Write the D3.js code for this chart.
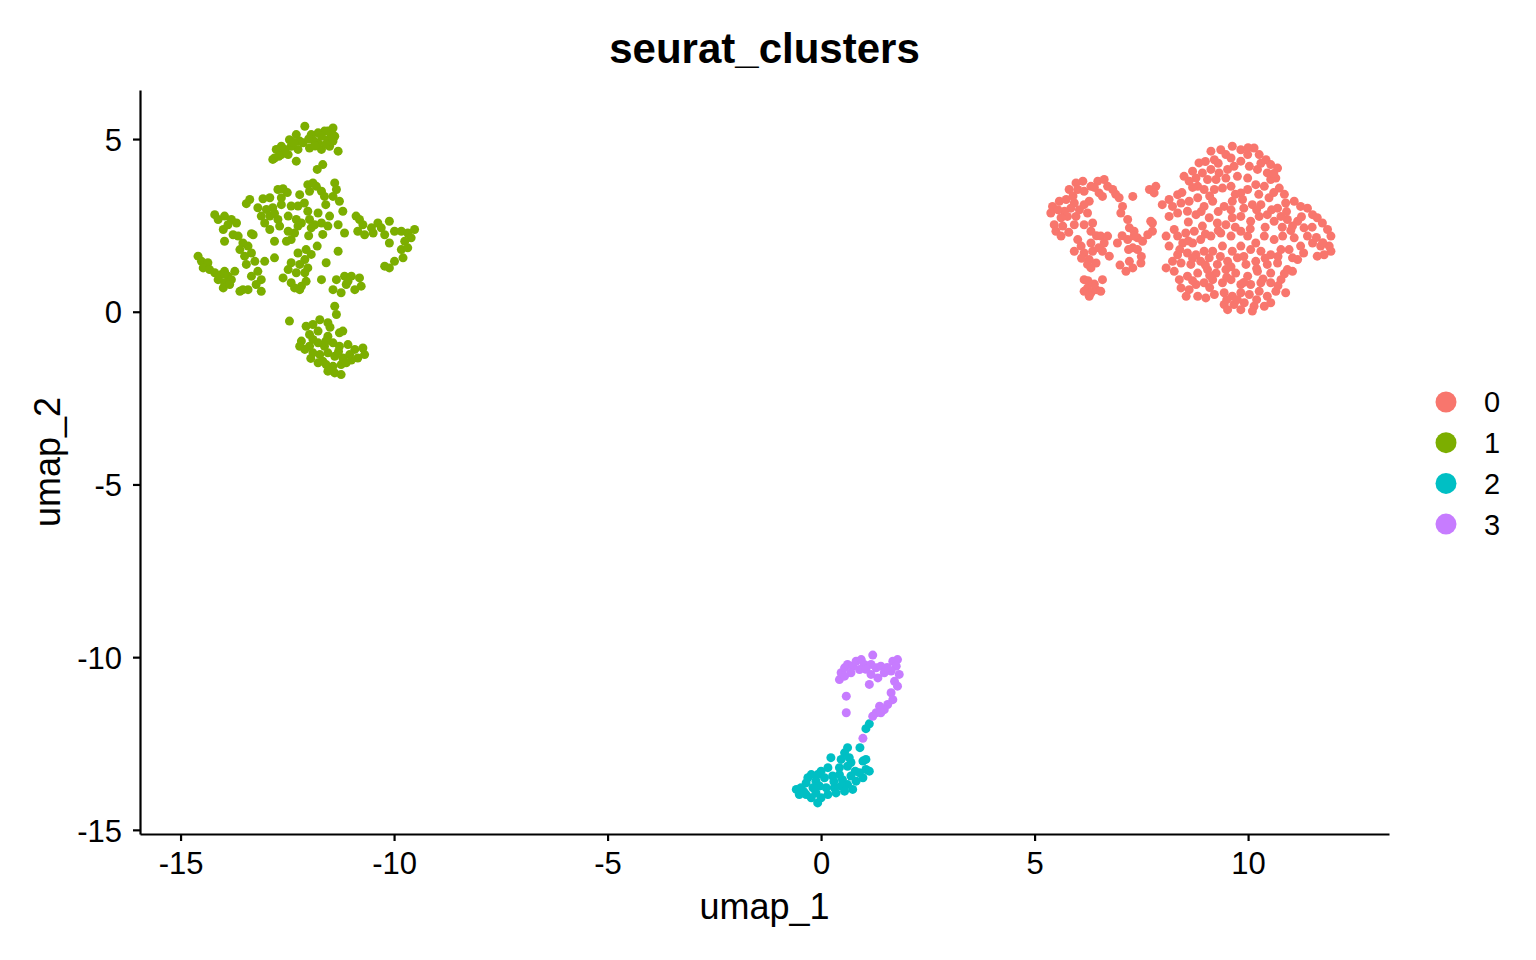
<!DOCTYPE html>
<html>
<head>
<meta charset="utf-8">
<script src="https://cdn.jsdelivr.net/npm/d3@7/dist/d3.min.js"></script>
<style>
  html, body { margin: 0; padding: 0; background: #fff; }
  svg { display: block; }
  text { font-family: "Liberation Sans", Arial, Helvetica, sans-serif; fill: #000; }
</style>
</head>
<body>
<svg id="chart" width="1536" height="960"></svg>
<script>
// ---- data (umap_1, umap_2) ----
const categories = ["0", "1", "2", "3"];
const colors = ["#F8766D", "#7CAE00", "#00BFC4", "#C77CFF"];
const xTicks = [-15, -10, -5, 0, 5, 10];
const yTicks = [5, 0, -5, -10, -15];

const cluster0 = [
  [5.38,2.86],[5.46,2.52],[5.42,3.05],[5.58,3.20],[5.74,3.25],[5.81,3.54],[5.97,3.73],[6.13,3.78],[6.01,3.54],[6.16,3.49],
  [6.32,3.63],[6.48,3.78],[6.63,3.83],[6.71,3.63],[6.83,3.54],[6.51,3.44],[6.59,3.34],[6.28,3.20],[6.16,3.10],[5.93,3.15],
  [5.85,3.00],[5.70,2.91],[5.77,2.76],[5.62,2.72],[5.97,2.76],[6.24,2.86],[5.66,2.48],[5.50,2.33],[5.62,2.19],[5.93,2.52],
  [6.16,2.52],[6.36,2.57],[6.32,2.33],[6.98,3.30],[7.06,3.05],[7.02,2.86],[7.18,2.67],[7.22,2.43],[7.33,2.33],[7.41,2.14],
  [7.18,2.09],[6.01,2.09],[6.09,1.90],[5.93,1.75],[6.16,1.70],[6.32,1.99],[6.36,1.75],[6.28,1.51],[6.44,1.41],[6.55,2.19],
  [6.63,1.99],[6.71,2.19],[6.75,1.61],[6.59,1.75],[6.94,1.99],[7.33,2.19],[7.30,1.85],[7.41,1.80],[7.53,2.04],[7.22,1.46],
  [7.14,1.17],[7.30,1.27],[7.49,1.41],[6.24,1.37],[6.32,1.27],
  [6.16,0.93],[6.24,0.69],[6.16,0.59],[6.32,0.55],[6.44,0.64],[6.55,0.59],[6.59,0.93],[6.28,0.45],
  [7.30,3.34],[7.69,3.54],[7.84,3.63],[7.80,3.44],[7.76,2.57],[7.76,2.33],[7.72,2.62],[7.65,2.23],
  [8.50,3.92],[8.70,4.07],[8.85,4.31],[9.13,4.65],[9.21,4.40],[9.36,4.69],[9.48,4.55],[9.63,4.79],[9.83,4.69],[9.99,4.55],
  [10.14,4.74],[10.26,4.55],[10.42,4.40],[10.53,4.26],[10.69,4.16],[10.65,3.87],[10.73,3.58],[10.45,4.02],[10.22,4.12],[10.03,4.21],
  [9.83,4.36],[9.67,4.21],[9.52,4.12],[9.32,4.02],[9.13,4.12],[8.93,4.02],[8.78,3.87],[8.62,3.78],[9.05,3.83],[9.25,3.83],
  [9.48,3.87],[9.75,3.92],[9.99,3.87],[10.18,3.68],[10.38,3.63],[10.53,3.83],[9.99,3.54],[9.83,3.44],[9.60,3.63],[9.40,3.58],
  [9.21,3.54],[8.97,3.54],[8.82,3.63],
  [8.35,3.39],[8.15,3.25],[7.99,3.10],[8.23,3.05],[8.43,3.15],[8.62,3.20],[8.82,3.30],[8.58,2.91],[8.35,2.86],[8.15,2.76],
  [8.78,2.81],[8.97,3.05],[9.17,3.20],[9.44,3.05],[9.63,3.20],[9.87,3.25],[10.10,3.10],[10.30,3.10],[10.49,3.30],[10.69,3.00],
  [10.88,3.15],[11.08,3.20],[11.23,3.05],[11.39,3.00],[11.51,2.81],[11.62,2.72],[11.74,2.57],[11.86,2.38],[11.94,2.19],[11.90,1.90],
  [11.94,1.75],[11.78,1.65],[11.62,1.61],[11.70,1.90],[11.51,1.99],[11.39,2.19],[11.31,2.43],[11.16,2.62],[11.04,2.48],[10.92,2.67],
  [10.77,2.76],[10.61,2.62],[10.45,2.81],[10.26,2.76],[10.06,2.62],[9.83,2.76],[9.63,2.72],[9.48,2.52],[9.28,2.57],[9.09,2.72],
  [8.93,2.48],[8.74,2.33],[8.54,2.28],[8.27,2.38],[8.08,2.19],[8.15,1.90],[8.35,2.19],[8.47,1.99],[8.70,1.99],[8.89,2.09],
  [9.13,2.19],[9.36,2.28],[9.60,2.19],[9.83,2.33],[9.99,2.19],[10.18,1.99],[10.38,2.19],[10.61,2.09],[10.81,2.19],[11.08,2.14],
  [11.23,1.90],[10.96,1.80],[10.77,1.80],[10.53,1.65],[10.30,1.75],[10.06,1.80],[9.83,1.90],[9.63,1.75],[9.40,1.90],[9.17,1.75],
  [8.97,1.75],[8.78,1.65],[8.58,1.70],[8.35,1.65],[8.23,1.46],[8.08,1.27],[8.27,1.17],[8.43,1.41],[8.66,1.37],[8.89,1.46],
  [9.09,1.56],[9.28,1.37],[9.52,1.46],[9.75,1.56],[9.95,1.37],[10.18,1.46],[10.45,1.37],[10.69,1.41],[10.53,1.12],[10.22,1.17],
  [9.99,1.03],[9.71,1.12],[9.48,1.22],[9.25,1.12],[9.05,1.22],[8.82,1.12],[8.58,1.03],[8.39,0.93],[8.43,0.69],[8.62,0.64],
  [8.78,0.79],[8.97,0.84],[9.17,0.93],[9.40,0.84],[9.60,0.93],[9.83,0.79],[10.06,0.79],[10.30,0.84],[10.53,0.84],[10.77,0.93],
  [10.88,0.55],[10.65,0.59],[10.45,0.45],[10.26,0.59],[10.03,0.50],[9.83,0.55],[9.63,0.45],[9.44,0.55],[9.21,0.50],[9.01,0.40],
  [8.82,0.45],[9.44,0.21],[9.67,0.21],[9.91,0.26],[10.14,0.16],[10.38,0.16],[10.53,0.26],[10.10,0.02],[9.83,0.06],[9.52,0.06],
  [10.92,1.22],[11.04,1.17],[11.16,1.51],[11.04,1.56],
  [8.60,2.60],[8.90,2.90],[9.30,2.90],[9.60,2.95],[9.90,3.00],[10.20,2.95],[10.55,2.95],[10.90,2.90],[11.25,2.75],[11.50,2.45],
  [11.60,2.15],[11.75,2.00],[11.30,1.70],[11.00,2.35],[10.80,2.45],[10.40,2.45],[10.05,2.40],[9.70,2.45],[9.30,2.35],[9.00,2.25],
  [8.60,2.05],[8.40,1.80],[8.70,1.55],[9.00,1.35],[9.35,1.60],[9.60,1.30],[9.90,1.60],[10.20,1.25],[10.40,1.55],[10.70,1.60],
  [10.85,1.10],[10.35,0.95],[9.90,0.85],[9.50,1.00],[9.10,1.05],[8.70,0.90],[8.55,0.45],[9.10,0.70],[9.50,0.35],[9.75,0.35],
  [10.20,0.35],[10.70,0.75],[9.30,4.30],[9.60,4.45],[10.00,4.75],[10.30,4.30],[10.60,4.00],[9.00,4.35],[8.70,3.60],[8.45,3.45],
  [9.10,3.35],[9.70,3.40],[10.25,3.40],[10.60,3.45],[10.85,3.40],
  [5.55,2.95],[5.90,3.35],[6.40,3.60],[6.90,3.40],[6.05,2.95],[5.80,2.30],[6.45,2.20],[6.10,1.55],[6.50,1.85],[7.05,2.20],
  [7.20,1.80],[6.40,0.80],[6.25,0.90],[7.50,1.60],[7.00,1.35]
];

const cluster1 = [
  [-12.09,5.37],[-11.43,5.32],[-11.63,5.23],[-11.78,5.18],[-11.94,5.13],[-12.29,5.13],[-12.45,4.98],[-12.64,4.79],[-12.76,4.70],[-12.80,4.45],
  [-12.84,4.41],[-12.48,4.55],[-12.25,4.70],[-12.13,4.89],[-11.98,4.74],[-11.78,4.89],[-11.55,4.98],[-11.39,5.08],[-11.70,4.70],[-11.51,4.79],
  [-11.90,4.98],[-12.21,4.94],[-12.56,4.70],[-12.41,4.79],[-11.31,4.65],[-12.29,4.36],[-11.67,4.26],[-11.80,4.12],[-11.55,5.23],[-12.64,4.55],
  [-11.43,4.94],[-11.47,5.13],[-11.70,5.08],
  [-12.00,5.00],[-11.85,4.80],[-12.35,4.90],[-12.55,4.60],[-11.60,4.85],[-12.70,4.50],
  [-13.38,3.25],[-13.46,3.13],[-13.07,3.27],[-12.91,3.30],[-12.72,3.54],[-12.60,3.56],[-12.64,3.30],[-12.21,3.39],[-12.02,3.68],[-11.90,3.73],
  [-11.82,3.63],[-11.98,3.49],[-11.70,3.49],[-11.63,3.34],[-11.39,3.73],[-11.35,3.54],[-11.43,3.34],[-11.28,3.20],[-11.20,2.91],[-11.51,2.77],
  [-11.78,2.86],[-12.02,2.91],[-12.25,3.06],[-12.41,3.06],[-12.64,3.10],[-12.84,3.01],[-12.99,2.96],[-13.19,3.01],[-13.11,2.77],[-12.91,2.77],
  [-12.72,2.67],[-12.48,2.77],[-12.29,2.67],[-12.17,2.57],[-11.98,2.67],[-11.86,2.52],[-11.70,2.57],[-11.55,2.48],[-11.31,2.52],[-11.16,2.28],
  [-11.67,2.24],[-11.94,2.43],[-12.25,2.48],[-12.33,2.28],[-12.48,2.33],[-12.41,2.09],[-12.52,2.04],[-12.80,2.04],[-12.68,2.48],[-12.91,2.38],
  [-13.03,2.57],[-13.30,2.23],[-13.54,1.99],[-13.42,1.90],[-13.34,1.70],[-13.50,1.61],[-13.61,1.80],[-13.26,1.46],[-13.46,1.37],[-13.19,1.17],
  [-13.34,1.03],[-13.11,0.93],[-13.23,0.79],[-13.42,0.64],[-13.61,0.59],[-13.11,0.59],
  [-12.50,3.45],[-12.10,3.15],[-11.60,3.10],[-12.80,2.85],[-12.00,2.20],[-11.80,1.90],
  [-12.25,1.70],[-12.06,1.80],[-11.94,1.66],[-12.09,1.51],[-12.21,1.37],[-12.02,1.27],[-12.09,1.13],[-12.29,1.13],[-12.41,1.42],[-12.48,1.22],
  [-12.60,0.98],[-12.41,0.84],[-12.33,0.69],[-12.17,0.74],[-12.06,0.88],[-12.21,0.64],[-12.80,1.56],[-13.03,1.46],[-11.59,1.42],[-11.31,1.75],
  [-11.70,0.93],
  [-11.35,0.93],[-11.16,1.03],[-11.00,1.03],[-10.81,0.98],[-10.77,0.74],[-10.92,0.64],[-11.12,0.79],[-11.24,0.55],[-11.43,0.64],[-11.08,0.88],
  [-11.39,0.16],[-11.35,-0.08],
  [-14.20,2.81],[-14.12,2.67],[-13.97,2.77],[-13.81,2.67],[-13.69,2.57],[-14.00,2.38],[-13.89,2.52],[-13.77,2.23],[-13.97,2.04],[-13.65,2.19],
  [-13.34,2.26],
  [-14.59,1.61],[-14.51,1.46],[-14.43,1.37],[-14.36,1.42],[-14.47,1.27],[-14.32,1.22],[-14.20,1.13],[-14.04,1.08],[-13.97,1.17],[-13.89,1.03],
  [-14.12,0.93],[-13.97,0.84],[-13.81,0.93],[-13.73,1.17],[-14.00,0.69],[-13.85,0.79],[-13.54,0.64],
  [-10.89,2.77],[-10.81,2.67],[-10.73,2.52],[-10.85,2.33],[-10.69,2.23],[-10.53,2.43],[-10.38,2.57],[-10.30,2.43],[-10.11,2.62],[-10.22,2.23],
  [-9.99,2.33],[-9.83,2.33],[-9.68,2.28],[-9.52,2.38],[-9.60,2.14],[-9.75,2.04],[-10.11,1.99],[-9.83,1.80],[-9.68,1.85],[-9.79,1.56],
  [-9.99,1.46],[-10.22,1.32],[-10.11,1.27],[-10.49,2.28],
  [-12.45,-0.27],[-12.06,-0.42],[-11.90,-0.37],[-11.74,-0.23],[-11.55,-0.32],[-11.98,-0.66],[-11.78,-0.56],[-11.55,-0.71],[-11.28,-0.61],[-11.20,-0.56],
  [-12.17,-0.85],[-11.98,-1.00],[-11.78,-0.90],[-11.63,-1.00],[-11.43,-0.90],[-11.28,-1.00],[-11.08,-0.95],[-10.92,-1.09],[-10.73,-1.05],[-10.69,-1.24],
  [-10.85,-1.34],[-11.04,-1.24],[-11.20,-1.34],[-11.39,-1.29],[-11.55,-1.19],[-11.74,-1.24],[-11.90,-1.19],[-12.09,-1.09],[-12.21,-1.00],[-11.78,-1.48],
  [-11.59,-1.53],[-11.43,-1.58],[-11.24,-1.53],[-11.12,-1.48],[-11.39,-1.77],[-11.24,-1.82],[-11.55,-1.72],[-11.67,-1.43],
  [-11.90,-0.80],[-11.50,-0.45],[-11.30,-1.15],[-11.00,-1.40],[-11.60,-0.85],[-11.95,-1.35]
];

const cluster2 = [
  [1.13,-11.93],[1.05,-12.07],[0.91,-12.62],[0.62,-12.62],[0.55,-12.77],[0.47,-12.96],[0.23,-12.91],[0.66,-12.91],[0.98,-13.01],[1.05,-12.96],
  [0.62,-13.16],[0.43,-13.20],[0.16,-13.20],[0.00,-13.30],[-0.08,-13.40],[-0.23,-13.40],[-0.31,-13.49],[-0.35,-13.64],[-0.12,-13.59],[0.08,-13.49],
  [0.27,-13.44],[0.43,-13.40],[0.70,-13.44],[0.90,-13.35],[1.05,-13.25],[1.13,-13.30],[0.98,-13.49],[0.82,-13.59],[0.62,-13.69],[0.47,-13.73],
  [0.31,-13.78],[0.12,-13.78],[-0.04,-13.73],[-0.19,-13.78],[-0.47,-13.78],[-0.58,-13.83],[-0.51,-13.98],[-0.35,-13.98],[-0.23,-14.07],[-0.08,-14.22],
  [0.00,-14.07],[0.16,-13.98],[0.35,-13.93],[0.55,-13.88],[0.74,-13.83],[-0.12,-13.93],
  [0.30,-13.60],[0.50,-13.55],[-0.40,-13.90],[0.80,-13.30],[0.70,-13.05]
];

const cluster3 = [
  [0.43,-10.65],[0.47,-10.45],[0.55,-10.31],[0.62,-10.21],[0.74,-10.26],[0.82,-10.12],[0.94,-10.07],[1.01,-10.21],[0.90,-10.36],[0.70,-10.45],
  [1.21,-9.94],[1.17,-10.21],[1.29,-10.31],[1.40,-10.26],[1.17,-10.50],[1.33,-10.60],[1.48,-10.45],[1.68,-10.12],[1.79,-10.07],[1.76,-10.26],
  [1.64,-10.40],[1.83,-10.50],[1.72,-10.70],[1.79,-10.84],[1.64,-11.03],[1.68,-11.23],[1.56,-11.37],[1.48,-11.52],[1.37,-11.42],[1.29,-11.61],
  [1.21,-11.71],[1.40,-11.61],[1.13,-10.79],[0.59,-11.13],[0.59,-11.61],[0.98,-12.35],
  [1.55,-10.30],[1.05,-10.35],[0.55,-10.55]
];

const clusters = [cluster0, cluster1, cluster2, cluster3];

// ---- layout ----
const svg = d3.select("#chart");
const panel = { left: 140, right: 1389, top: 90, bottom: 834 };

const x = d3.scaleLinear().domain([-15.95, 13.3]).range([panel.left, panel.right]);
const y = d3.scaleLinear().domain([-15.12, 6.42]).range([panel.bottom, panel.top]);
const color = d3.scaleOrdinal().domain(categories).range(colors);

// points
const pts = [];
clusters.forEach((c, i) => c.forEach(p => pts.push({ x: p[0], y: p[1], k: categories[i] })));
svg.append("g")
  .selectAll("circle")
  .data(pts)
  .join("circle")
  .attr("cx", d => x(d.x))
  .attr("cy", d => y(d.y))
  .attr("r", 4.5)
  .attr("fill", d => color(d.k));

// axes
const xAxis = svg.append("g")
  .attr("transform", `translate(0,${panel.bottom})`)
  .call(d3.axisBottom(x).tickValues(xTicks).tickSizeInner(7).tickSizeOuter(0).tickPadding(11).tickFormat(d3.format("d")));
const yAxis = svg.append("g")
  .attr("transform", `translate(${panel.left},0)`)
  .call(d3.axisLeft(y).tickValues(yTicks).tickSizeInner(7).tickSizeOuter(0).tickPadding(11).tickFormat(d3.format("d")));

[xAxis, yAxis].forEach(g => {
  g.select(".domain").attr("stroke", "#000").attr("stroke-width", 2.2);
  g.selectAll(".tick line").attr("stroke", "#000").attr("stroke-width", 2.2);
  g.selectAll(".tick text")
    .attr("fill", "#000")
    .style("font-family", '"Liberation Sans", Arial, Helvetica, sans-serif')
    .style("font-size", "31px");
});
// hyphen minus, like R
xAxis.selectAll(".tick text").text(d => String(d));
yAxis.selectAll(".tick text").text(d => String(d)).attr("dy", "0.36em");

// title
svg.append("text")
  .attr("x", (panel.left + panel.right) / 2)
  .attr("y", 63)
  .attr("text-anchor", "middle")
  .style("font-size", "42px")
  .style("font-weight", "bold")
  .text("seurat_clusters");

// axis titles
svg.append("text")
  .attr("x", (panel.left + panel.right) / 2)
  .attr("y", 919)
  .attr("text-anchor", "middle")
  .style("font-size", "36px")
  .text("umap_1");
svg.append("text")
  .attr("transform", `translate(60,${(panel.top + panel.bottom) / 2}) rotate(-90)`)
  .attr("text-anchor", "middle")
  .style("font-size", "36px")
  .text("umap_2");

// legend
const legend = svg.append("g").attr("transform", "translate(1446,402)");
const items = legend.selectAll("g").data(categories).join("g")
  .attr("transform", (d, i) => `translate(0,${i * 40.7})`);
items.append("circle").attr("r", 10.5).attr("fill", d => color(d));
items.append("text")
  .attr("x", 38)
  .attr("dy", "0.36em")
  .style("font-size", "29px")
  .text(d => d);
</script>
</body>
</html>
